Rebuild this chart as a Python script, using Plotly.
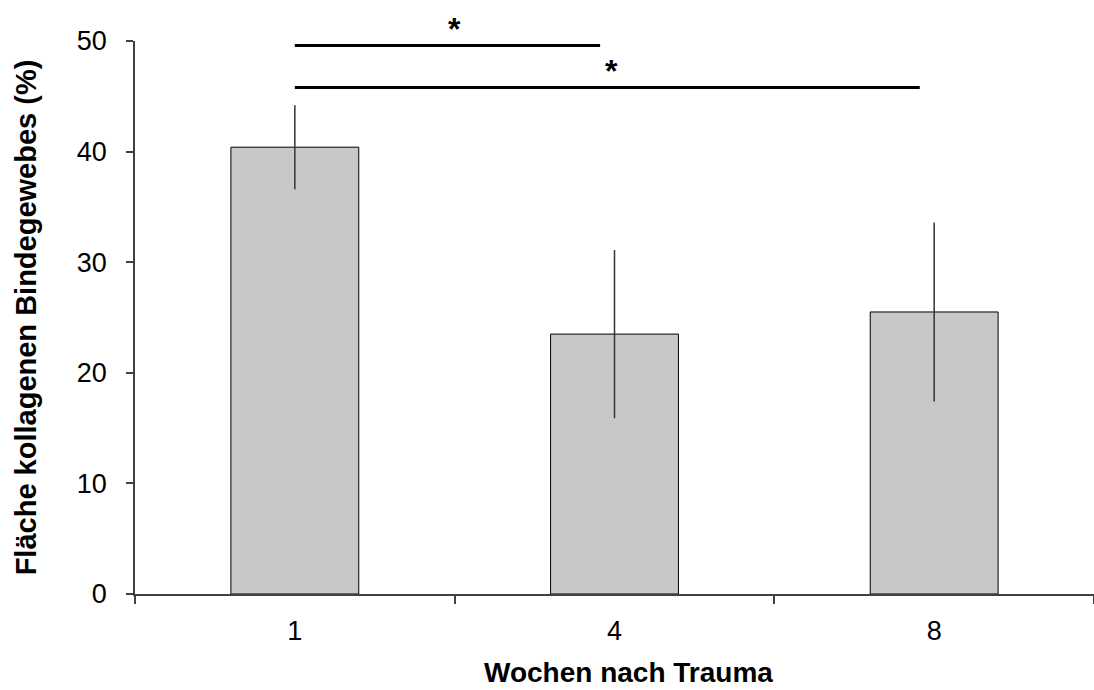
import plotly.graph_objects as go

categories = ["1", "4", "8"]
means = [40.4, 23.5, 25.5]
errors = [3.8, 7.6, 8.1]
y_ticks = [0, 10, 20, 30, 40, 50]

fig = go.Figure()
fig.add_trace(go.Bar(
    x=categories, y=means,
    width=0.4,
    marker=dict(color="#c8c8c8", line=dict(color="#000000", width=1)),
    error_y=dict(type="data", array=errors, visible=True, width=0,
                 thickness=1.5, color="#333333"),
    showlegend=False,
))

# significance brackets
sig_lines = [(0, 0.955, 49.6), (0, 1.955, 45.8)]
for x0, x1, yv in sig_lines:
    fig.add_shape(type="line", xref="x", yref="y", x0=x0, x1=x1, y0=yv, y1=yv,
                  line=dict(color="#000000", width=3))
stars = [(0.5, 1.022), (0.99, 0.946)]
for xs, ys in stars:
    fig.add_annotation(x=xs, y=ys, xref="x", yref="paper", text="<b>*</b>",
                       showarrow=False, font=dict(size=32, color="#000000",
                                                  family="Liberation Sans, Arial"),
                       yanchor="middle")

# x axis title
fig.add_annotation(x=0.515, y=-0.1715, xref="paper", yref="paper",
                   text="<b>Wochen nach Trauma</b>", showarrow=False,
                   xanchor="center", yanchor="bottom", borderpad=0,
                   font=dict(size=28, color="#000000", family="Liberation Sans, Arial"))

fig.update_layout(
    width=1094, height=690,
    margin=dict(l=135, r=0, t=41, b=96),
    paper_bgcolor="white", plot_bgcolor="white",
    font=dict(family="Liberation Sans, Arial", size=27, color="#000000"),
    bargap=0.6,
)
fig.update_xaxes(
    type="category", range=[-0.5, 2.5], automargin=False,
    showline=True, linecolor="#404040", linewidth=1.5,
    ticks="outside", tickson="boundaries", ticklen=8, tickcolor="#404040", tickwidth=1.5,
    ticklabelstandoff=12, tickfont=dict(size=27),
    showgrid=False, zeroline=False,
)
fig.update_yaxes(
    range=[0, 50], tickvals=y_ticks, automargin=False,
    showline=True, linecolor="#404040", linewidth=1.5,
    ticks="outside", ticklen=7, tickcolor="#404040", tickwidth=1.5,
    ticklabelstandoff=14, tickfont=dict(size=27),
    showgrid=False, zeroline=False,
    title=dict(text="<b>Fläche kollagenen Bindegewebes (%)</b>", font=dict(size=29), standoff=32),
)

fig.write_html("out.html", config={"displayModeBar": False},
               post_script="document.body.style.margin='0';document.body.style.padding='0';")
